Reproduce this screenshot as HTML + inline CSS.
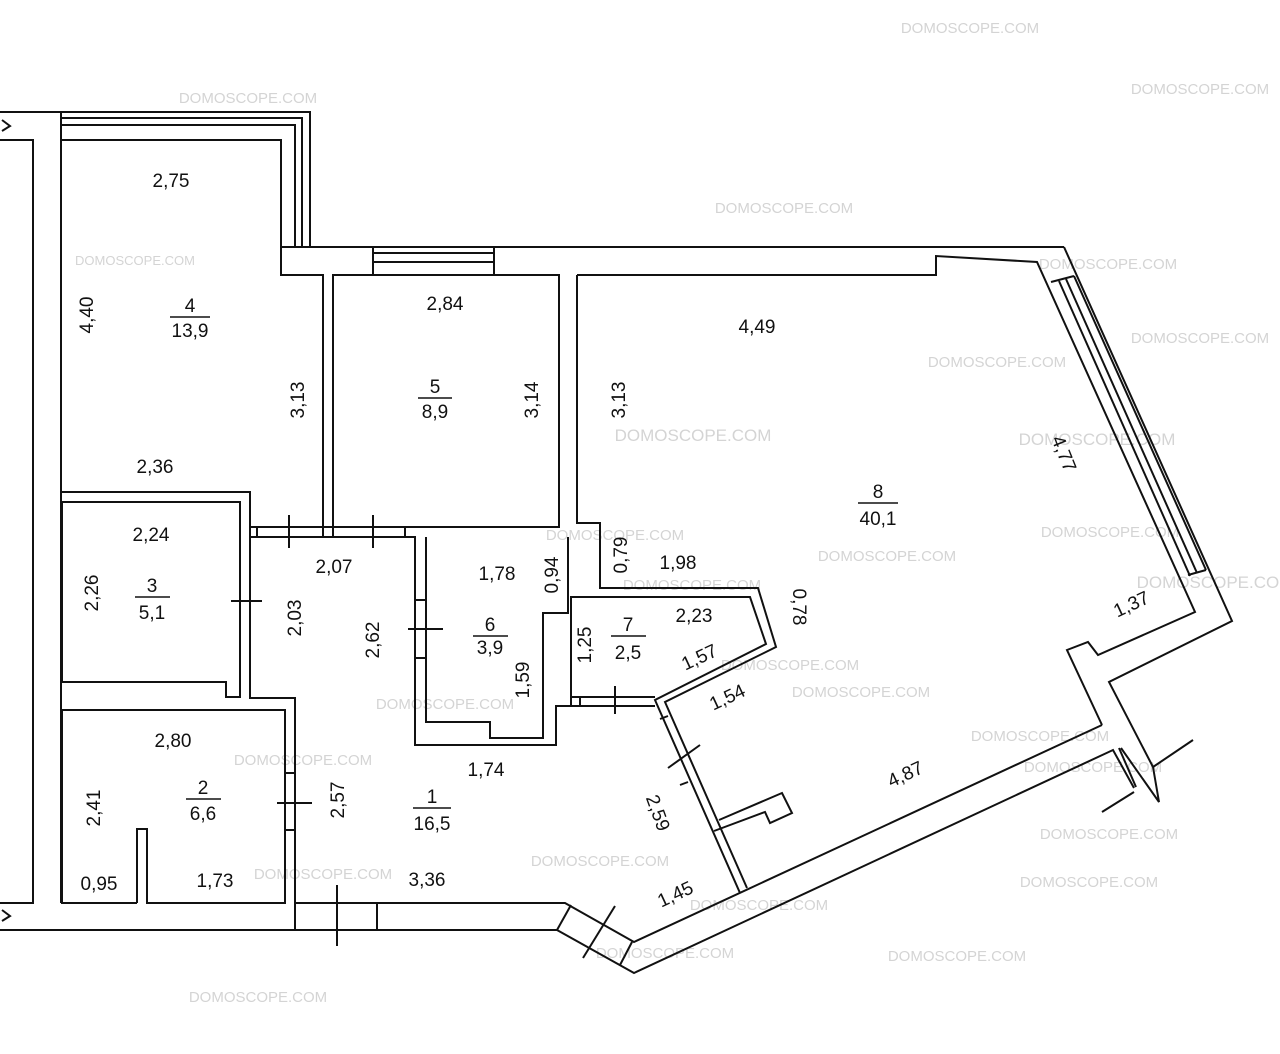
<!DOCTYPE html>
<html><head><meta charset="utf-8"><style>
html,body{margin:0;padding:0;background:#fff;}
svg{display:block;}
text{font-family:"Liberation Sans",sans-serif;}
.t{font-size:19px;fill:#111;text-anchor:middle;}
.w{font-size:15px;fill:#d4d4d4;text-anchor:middle;}
</style></head><body>
<svg width="1280" height="1054" viewBox="0 0 1280 1054" xmlns="http://www.w3.org/2000/svg">
<g class="w">
<text x="970" y="33">DOMOSCOPE.COM</text>
<text x="248" y="103">DOMOSCOPE.COM</text>
<text x="1200" y="94">DOMOSCOPE.COM</text>
<text x="784" y="213">DOMOSCOPE.COM</text>
<text x="135" y="265" style="font-size:13px">DOMOSCOPE.COM</text>
<text x="1108" y="269">DOMOSCOPE.COM</text>
<text x="1200" y="343">DOMOSCOPE.COM</text>
<text x="997" y="367">DOMOSCOPE.COM</text>
<text x="693" y="441" style="font-size:17px">DOMOSCOPE.COM</text>
<text x="1097" y="445" style="font-size:17px">DOMOSCOPE.COM</text>
<text x="1110" y="537">DOMOSCOPE.COM</text>
<text x="615" y="540">DOMOSCOPE.COM</text>
<text x="887" y="561">DOMOSCOPE.COM</text>
<text x="1215" y="588" style="font-size:17px">DOMOSCOPE.COM</text>
<text x="692" y="590">DOMOSCOPE.COM</text>
<text x="790" y="670">DOMOSCOPE.COM</text>
<text x="861" y="697">DOMOSCOPE.COM</text>
<text x="445" y="709">DOMOSCOPE.COM</text>
<text x="1040" y="741">DOMOSCOPE.COM</text>
<text x="303" y="765">DOMOSCOPE.COM</text>
<text x="1093" y="772">DOMOSCOPE.COM</text>
<text x="1109" y="839">DOMOSCOPE.COM</text>
<text x="600" y="866">DOMOSCOPE.COM</text>
<text x="323" y="879">DOMOSCOPE.COM</text>
<text x="1089" y="887">DOMOSCOPE.COM</text>
<text x="759" y="910">DOMOSCOPE.COM</text>
<text x="665" y="958">DOMOSCOPE.COM</text>
<text x="957" y="961">DOMOSCOPE.COM</text>
<text x="258" y="1002">DOMOSCOPE.COM</text>
</g>
<g fill="none" stroke="#111" stroke-width="2">
<polyline points="0,112 310,112 310,247"/>
<polyline points="61,118 302,118 302,247"/>
<polyline points="61,125 295,125 295,247"/>
<polyline points="0,140 33,140 33,903 0,903"/>
<polyline points="0,930 557,930"/>
<line x1="61" y1="112" x2="61" y2="903"/>
<path d="M2,120 L10,126 L2,131"/>
<path d="M2,910 L10,916 L2,921"/>
<polyline points="61,140 281,140 281,275 323,275 323,527"/>
<polyline points="61,492 250,492 250,527"/>
<line x1="281" y1="247" x2="281" y2="275"/>
<line x1="281" y1="247" x2="1064" y2="247"/>
<rect x="333" y="275" width="226" height="252"/>
<line x1="373" y1="253" x2="494" y2="253"/>
<line x1="373" y1="262" x2="494" y2="262"/>
<line x1="373" y1="247" x2="373" y2="275"/>
<line x1="494" y1="247" x2="494" y2="275"/>
<polyline points="250,527 415,527"/>
<polyline points="250,537 415,537 415,745 556,745 556,706 571,706"/>
<line x1="257" y1="527" x2="257" y2="537"/>
<line x1="323" y1="527" x2="323" y2="537"/>
<line x1="333" y1="527" x2="333" y2="537"/>
<line x1="405" y1="527" x2="405" y2="537"/>
<line x1="289" y1="515" x2="289" y2="548"/>
<line x1="373" y1="515" x2="373" y2="548"/>
<polyline points="62,682 62,502 240,502 240,697 226,697 226,682 62,682"/>
<line x1="231" y1="601" x2="262" y2="601"/>
<polyline points="250,527 250,698 295,698 295,930"/>
<polyline points="137,903 62,903 62,710 285,710 285,903 147,903 147,829 137,829 137,903"/>
<line x1="277" y1="803" x2="312" y2="803"/>
<line x1="285" y1="773" x2="295" y2="773"/>
<line x1="285" y1="830" x2="295" y2="830"/>
<polyline points="295,903 565,903 634,942 1102,725"/>
<polyline points="557,930 634,973 1113,750 1134,788"/>
<line x1="1119" y1="748" x2="1136" y2="787"/>
<line x1="377" y1="903" x2="377" y2="930"/>
<line x1="337" y1="885" x2="337" y2="946"/>
<line x1="557" y1="930" x2="571" y2="905"/>
<line x1="620" y1="965" x2="632" y2="942"/>
<line x1="583" y1="958" x2="615" y2="906"/>
<polyline points="426,537 426,722 490,722 490,738 543,738 543,613 568,613 568,537"/>
<line x1="408" y1="629" x2="443" y2="629"/>
<line x1="415" y1="600" x2="426" y2="600"/>
<line x1="415" y1="658" x2="426" y2="658"/>
<polyline points="577,275 577,523 600,523 600,588 758,588 776,647 665,702 747,888"/>
<polyline points="571,706 571,597 750,597 766,644 655,700 740,893"/>
<line x1="580" y1="697" x2="580" y2="706"/>
<line x1="571" y1="697" x2="655" y2="697"/>
<line x1="615" y1="686" x2="615" y2="714"/>
<line x1="571" y1="706" x2="655" y2="706"/>
<line x1="668" y1="768" x2="700" y2="745"/>
<line x1="660" y1="719" x2="668" y2="716"/>
<line x1="680" y1="785" x2="688" y2="782"/>
<polyline points="719,820 782,793 792,813 770,823 765,812 714,831"/>
<polyline points="577,275 936,275 936,256 1037,262 1195,612 1098,655 1088,642 1067,650 1102,725"/>
<polyline points="1064,247 1232,621 1109,682 1153,767"/>
<line x1="1051" y1="282" x2="1074" y2="276"/>
<line x1="1074" y1="276" x2="1206" y2="570"/>
<line x1="1066" y1="279" x2="1197" y2="573"/>
<line x1="1059" y1="281" x2="1190" y2="576"/>
<line x1="1188" y1="575" x2="1206" y2="570"/>
<polyline points="1121,748 1159,802 1153,767"/>
<line x1="1102" y1="812" x2="1134" y2="792"/>
<line x1="1153" y1="767" x2="1193" y2="740"/>
</g>
<g class="t">
<text x="171" y="187">2,75</text>
<text x="190" y="312">4</text><line x1="170" y1="317" x2="210" y2="317" stroke="#111" stroke-width="1.5"/><text x="190" y="337">13,9</text>
<text x="445" y="310">2,84</text>
<text x="435" y="393">5</text><line x1="418" y1="398" x2="452" y2="398" stroke="#111" stroke-width="1.5"/><text x="435" y="418">8,9</text>
<text x="757" y="333">4,49</text>
<text x="155" y="473">2,36</text>
<text x="878" y="498">8</text><line x1="858" y1="503" x2="898" y2="503" stroke="#111" stroke-width="1.5"/><text x="878" y="525">40,1</text>
<text x="151" y="541">2,24</text>
<text x="152" y="592">3</text><line x1="135" y1="597" x2="170" y2="597" stroke="#111" stroke-width="1.5"/><text x="152" y="619">5,1</text>
<text x="334" y="573">2,07</text>
<text x="497" y="580">1,78</text>
<text x="678" y="569">1,98</text>
<text x="490" y="631">6</text><line x1="473" y1="636" x2="508" y2="636" stroke="#111" stroke-width="1.5"/><text x="490" y="654">3,9</text>
<text x="628" y="631">7</text><line x1="611" y1="636" x2="646" y2="636" stroke="#111" stroke-width="1.5"/><text x="628" y="659">2,5</text>
<text x="694" y="622">2,23</text>
<text x="173" y="747">2,80</text>
<text x="203" y="794">2</text><line x1="186" y1="799" x2="221" y2="799" stroke="#111" stroke-width="1.5"/><text x="203" y="820">6,6</text>
<text x="486" y="776">1,74</text>
<text x="432" y="803">1</text><line x1="413" y1="808" x2="451" y2="808" stroke="#111" stroke-width="1.5"/><text x="432" y="830">16,5</text>
<text x="99" y="890">0,95</text>
<text x="215" y="887">1,73</text>
<text x="427" y="886">3,36</text>
<text transform="translate(93,315) rotate(-90)">4,40</text>
<text transform="translate(304,400) rotate(-90)">3,13</text>
<text transform="translate(538,400) rotate(-90)">3,14</text>
<text transform="translate(625,400) rotate(-90)">3,13</text>
<text transform="translate(98,593) rotate(-90)">2,26</text>
<text transform="translate(301,618) rotate(-90)">2,03</text>
<text transform="translate(379,640) rotate(-90)">2,62</text>
<text transform="translate(558,575) rotate(-90)">0,94</text>
<text transform="translate(529,680) rotate(-90)">1,59</text>
<text transform="translate(627,555) rotate(-90)">0,79</text>
<text transform="translate(591,645) rotate(-90)">1,25</text>
<text transform="translate(100,808) rotate(-90)">2,41</text>
<text transform="translate(344,800) rotate(-90)">2,57</text>
<text transform="translate(793,607) rotate(90)">0,78</text>
<text transform="translate(1058,456) rotate(68)">4,77</text>
<text transform="translate(652,815) rotate(70)">2,59</text>
<text transform="translate(702,663) rotate(-25)">1,57</text>
<text transform="translate(730,703) rotate(-25)">1,54</text>
<text transform="translate(1134,610) rotate(-25)">1,37</text>
<text transform="translate(908,780) rotate(-25)">4,87</text>
<text transform="translate(678,900) rotate(-25)">1,45</text>
</g>
</svg>
</body></html>
